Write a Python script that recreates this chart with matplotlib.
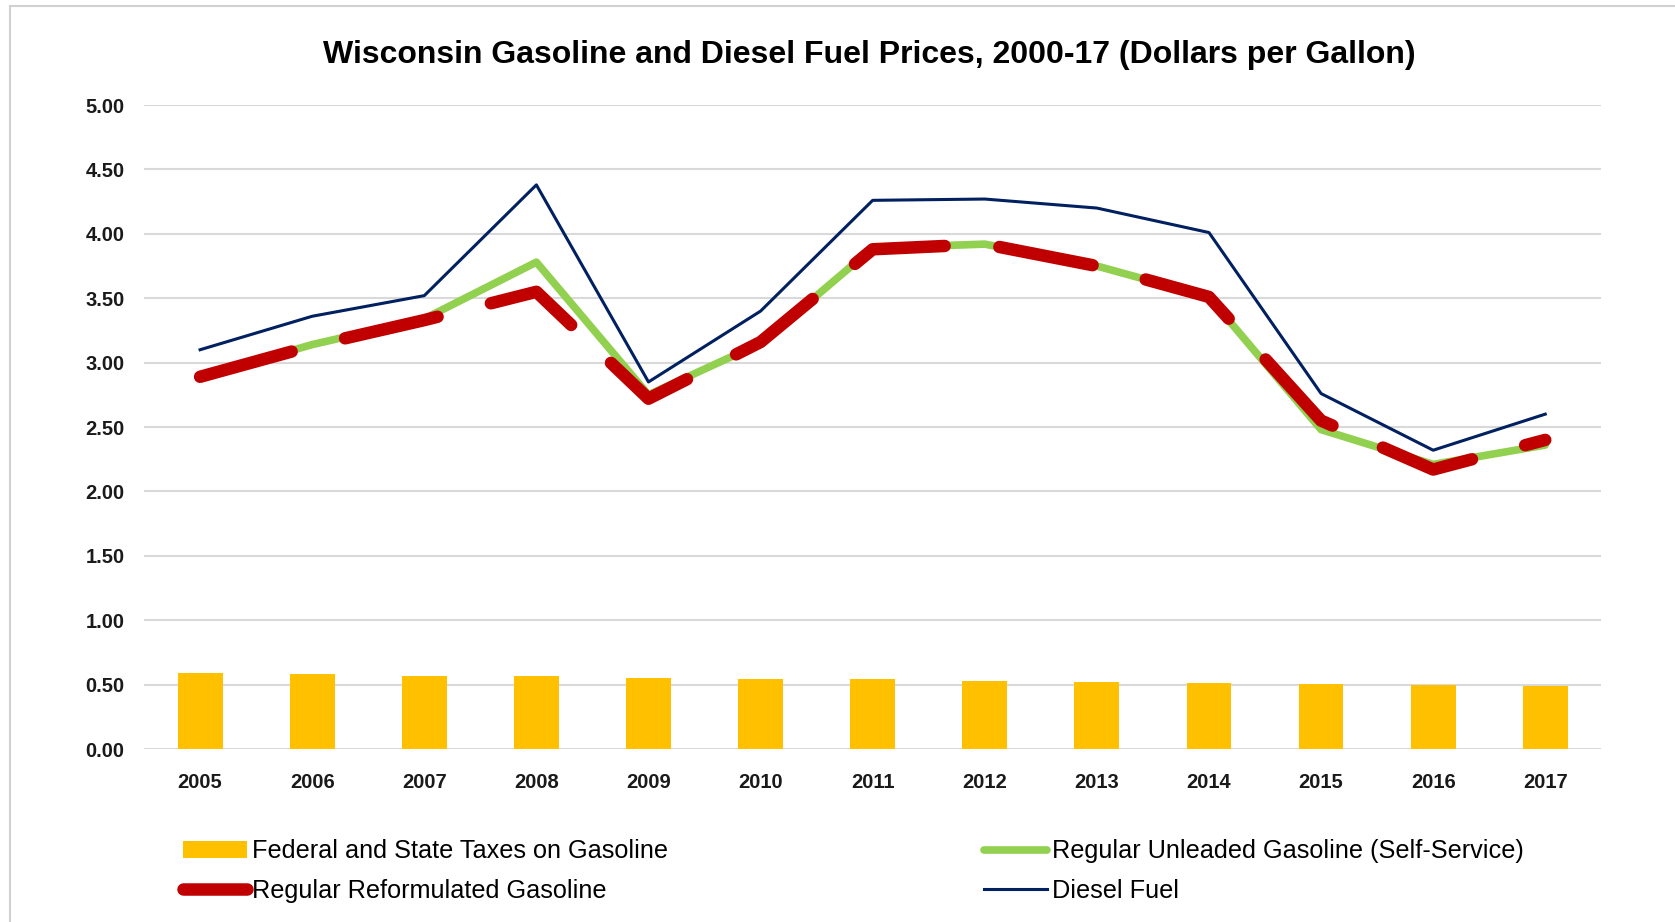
import matplotlib
matplotlib.use("Agg")
import matplotlib.pyplot as plt
from matplotlib.patches import Rectangle
import numpy as np

years = ["2005", "2006", "2007", "2008", "2009", "2010", "2011",
         "2012", "2013", "2014", "2015", "2016", "2017"]
taxes = [0.59, 0.58, 0.57, 0.565, 0.555, 0.547, 0.54, 0.53, 0.52, 0.514, 0.506, 0.50, 0.49]
unleaded = [2.89, 3.14, 3.34, 3.78, 2.75, 3.15, 3.89, 3.92, 3.75, 3.51, 2.48, 2.21, 2.36]
reformulated = [2.89, 3.13, 3.33, 3.55, 2.72, 3.16, 3.88, 3.92, 3.75, 3.51, 2.55, 2.17, 2.40]
diesel = [3.10, 3.36, 3.52, 4.38, 2.85, 3.40, 4.26, 4.27, 4.20, 4.01, 2.76, 2.32, 2.60]
yticks = [0, 0.5, 1, 1.5, 2, 2.5, 3, 3.5, 4, 4.5, 5]

title = "Wisconsin Gasoline and Diesel Fuel Prices, 2000-17 (Dollars per Gallon)"
lab_tax = "Federal and State Taxes on Gasoline"
lab_unl = "Regular Unleaded Gasoline (Self-Service)"
lab_ref = "Regular Reformulated Gasoline"
lab_die = "Diesel Fuel"

sans = ["Liberation Sans", "DejaVu Sans"]

fig = plt.figure(figsize=(16.75, 9.22), dpi=100)
ax = fig.add_axes([0.086, 0.1876, 0.870, 0.6985])

x = np.arange(len(years))
b = ax.bar(x, taxes, width=0.4, color="#FFC000", zorder=2, label=lab_tax)
l_unl, = ax.plot(x, unleaded, color="#92D050", lw=5.5, zorder=3,
                 solid_capstyle="round", solid_joinstyle="round", label=lab_unl)
l_ref, = ax.plot(x, reformulated, color="#C00000", lw=9, zorder=4,
                 dashes=(7.6, 4.4), dash_capstyle="round", dash_joinstyle="round",
                 label=lab_ref)
l_die, = ax.plot(x, diesel, color="#002060", lw=2.2, zorder=5, label=lab_die)

ax.set_xlim(-0.5, len(years) - 0.5)
ax.set_ylim(0, 5)
ax.set_yticks(yticks)
ax.set_yticklabels([f"{v:.2f}" for v in yticks])
ax.set_xticks(x)
ax.set_xticklabels(years)
ax.yaxis.grid(True, color="#d9d9d9", lw=1.5, zorder=0)
ax.set_axisbelow(True)
for s in ax.spines.values():
    s.set_visible(False)
ax.tick_params(axis="y", length=0, pad=14)
ax.tick_params(axis="x", length=0, pad=17)
for t in ax.get_xticklabels() + ax.get_yticklabels():
    t.set_fontfamily(sans)
    t.set_fontweight("bold")
    t.set_fontsize(14.5)
    t.set_color("#1a1a1a")

fig.text(0.519, 0.940, title, ha="center", va="center", fontsize=23,
         fontweight="bold", family=sans)

leg = fig.legend([b, l_ref, l_unl, l_die], [lab_tax, lab_ref, lab_unl, lab_die],
                 ncol=2, loc="center left", bbox_to_anchor=(0.1035, 0.0553),
                 frameon=False, handlelength=2.5, handletextpad=0.2,
                 columnspacing=12.5, labelspacing=0.6, borderaxespad=0,
                 prop={"family": sans, "size": 18.2})

fig.patches.append(Rectangle((0.006, -0.01), 1.2, 1.004, transform=fig.transFigure,
                             fill=False, ec="#d0d0d0", lw=1.5))

fig.savefig("out.png", dpi=100)
